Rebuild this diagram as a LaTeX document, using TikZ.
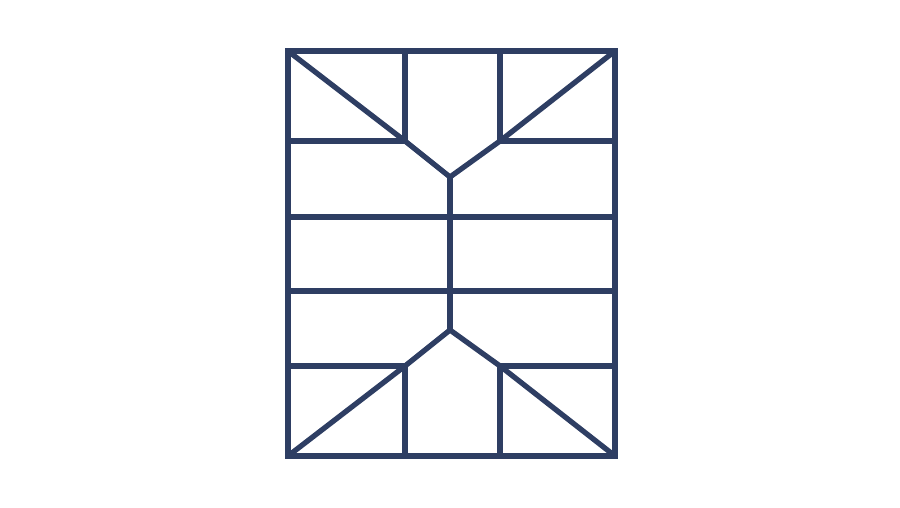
\documentclass[tikz,border=0pt]{standalone}
\usepackage{tikz}
\definecolor{framenavy}{RGB}{46,62,99}

\begin{document}
\begin{tikzpicture}[x=1pt,y=-1pt]
\useasboundingbox (0,0) rectangle (900,507);
\draw[line width=5.3pt, color=framenavy] (288,51) rectangle (615,456);
\begin{scope}[line width=5.3pt, color=framenavy]
\coordinate (apextop) at (450,177);
\coordinate (apexbot) at (450,330);
\draw (288,51)--(405,141)--(apextop)--(500,141)--(615,51);
\draw (288,456)--(405,366)--(apexbot)--(500,366)--(615,456);
\draw (apextop)--(apexbot);
\foreach \x in {405,500}{
  \draw (\x,51)--(\x,141);
  \draw (\x,366)--(\x,456);
}
\foreach \y in {217,291}{
  \draw (288,\y)--(615,\y);
}
\foreach \y in {141,366}{
  \draw (288,\y)--(405,\y);
  \draw (500,\y)--(615,\y);
}
\end{scope}
\end{tikzpicture}
\end{document}
